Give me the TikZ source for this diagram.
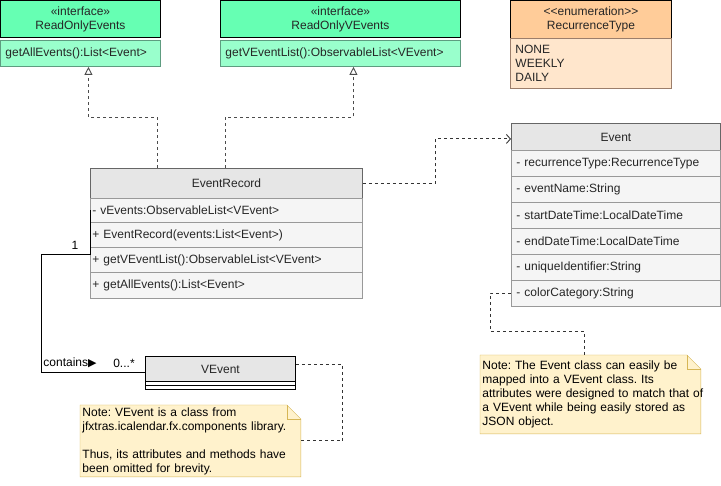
\documentclass[tikz,border=0pt]{standalone}
\usepackage{fontspec}
\setmainfont{Liberation Sans}
\newfontfamily\symfont{DejaVu Sans}
\usetikzlibrary{arrows.meta,calc,backgrounds}
\definecolor{ifchead}{HTML}{66FFB3}
\definecolor{ifcbody}{HTML}{99FFCC}
\definecolor{ifcline}{HTML}{5E9C80}
\definecolor{enumhead}{HTML}{FFCC99}
\definecolor{enumbody}{HTML}{FFE6CC}
\definecolor{enumline}{HTML}{9C7E6B}
\definecolor{clshead}{HTML}{E6E6E6}
\definecolor{clsbody}{HTML}{F5F5F5}
\definecolor{notefill}{HTML}{FFF2CC}
\definecolor{noteline}{HTML}{D6B656}
\tikzset{
  box/.style={draw, anchor=north west, inner xsep=5pt, inner ysep=0pt,
    font=\fontsize{12}{14}\selectfont, text=black!85},
  title/.style={box, align=center},
  member/.style={box, align=left},
  notetext/.style={anchor=north west, inner xsep=2pt, inner ysep=0pt, align=left,
    font=\fontsize{12}{14}\selectfont},
  lbl/.style={inner sep=0pt, font=\fontsize{12}{14}\selectfont},
  realize/.style={dash pattern=on 3pt off 3pt, black!70,
    -{Triangle[open, length=8pt, width=8pt]}},
  depend/.style={dash pattern=on 3pt off 3pt, black!80,
    -{Straight Barb[length=4pt, width=9pt]}},
  notelink/.style={dash pattern=on 3pt off 3pt, black!80},
}
% dog-eared note behind a text node
\newcommand{\drawnote}[1]{
  \begin{scope}[on background layer]
    \draw[noteline, fill=notefill] (#1.north west) -- ($(#1.north east)+(-14,0)$)
      -- ($(#1.north east)+(0,14)$) -- (#1.south east) -- (#1.south west) -- cycle;
    \draw[noteline] ($(#1.north east)+(-14,0)$) -- ($(#1.north east)+(-14,14)$)
      -- ($(#1.north east)+(0,14)$);
  \end{scope}
}

\begin{document}
\frenchspacing
\begin{tikzpicture}[x=1pt, y=-1pt, line width=0.9pt]
  \useasboundingbox (0,0) rectangle (721,486);

  % interfaces
  \node[title, fill=ifchead, text width=150, minimum height=37] (roeH) at (0,0)
    {«interface»\\ReadOnlyEvents};
  \node[member, fill=ifcbody, draw=ifcline, text width=150, minimum height=26] (roeB) at (0,40)
    {getAllEvents():List<Event>};
  \node[title, fill=ifchead, text width=230, minimum height=37] (rovH) at (220,0)
    {«interface»\\ReadOnlyVEvents};
  \node[member, fill=ifcbody, draw=ifcline, text width=230, minimum height=26] (rovB) at (220,40)
    {getVEventList():ObservableList<VEvent>};

  % enumeration
  \node[title, fill=enumhead, text width=151, minimum height=38] (rtH) at (510,0)
    {<\kern0pt<enumeration>\kern0pt>\\RecurrenceType};
  \node[member, fill=enumbody, draw=enumline, text width=151, minimum height=50] (rtB) at (510,38)
    {NONE\\WEEKLY\\DAILY};

  % EventRecord
  \node[title, fill=clshead, draw=black!60, text width=262, minimum height=30] (erH) at (90,168)
    {EventRecord};
  \node[member, fill=clsbody, draw=black!40, inner xsep=2pt, text width=268, minimum height=24] (er1) at (90,198)
    {- vEvents:ObservableList<VEvent>};
  \node[member, fill=clsbody, draw=black!40, inner xsep=2pt, text width=268, minimum height=25] (er2) at (90,222)
    {+ EventRecord(events:List<Event>)};
  \node[member, fill=clsbody, draw=black!40, inner xsep=2pt, text width=268, minimum height=25] (er3) at (90,247)
    {+ getVEventList():ObservableList<VEvent>};
  \node[member, fill=clsbody, draw=black!40, inner xsep=2pt, text width=268, minimum height=26] (er4) at (90,272)
    {+ getAllEvents():List<Event>};

  % Event
  \node[title, fill=clshead, draw=black!60, text width=199, minimum height=27] (evH) at (511,123)
    {Event};
  \node[member, fill=clsbody, draw=black!40, text width=199, minimum height=26] (ev1) at (511,150)
    {- recurrenceType:RecurrenceType};
  \node[member, fill=clsbody, draw=black!40, text width=199, minimum height=26] (ev2) at (511,176)
    {- eventName:String};
  \node[member, fill=clsbody, draw=black!40, text width=199, minimum height=26] (ev3) at (511,202)
    {- startDateTime:LocalDateTime};
  \node[member, fill=clsbody, draw=black!40, text width=199, minimum height=26] (ev4) at (511,228)
    {- endDateTime:LocalDateTime};
  \node[member, fill=clsbody, draw=black!40, text width=199, minimum height=26] (ev5) at (511,254)
    {- uniqueIdentifier:String};
  \node[member, fill=clsbody, draw=black!40, text width=199, minimum height=26] (ev6) at (511,280)
    {- colorCategory:String};

  % VEvent
  \node[title, fill=clshead, draw=black, text width=140, minimum height=25] (veH) at (145,356)
    {VEvent};
  \node[box, fill=white, draw=black, inner sep=0pt, minimum width=150, minimum height=4] (veA) at (145,381) {};
  \node[box, fill=white, draw=black, inner sep=0pt, minimum width=150, minimum height=4] (veM) at (145,385) {};

  % notes
  \node[notetext, text width=216, minimum height=71] (nt1) at (80,405)
    {Note: VEvent is a class from\\jfxtras.icalendar.fx.components library.\\[14pt]
     Thus, its attributes and methods have\\been omitted for brevity.};
  \drawnote{nt1}
  \node[notetext, text width=216, minimum height=78] (nt2) at (480,355)
    {Note: The Event class can easily be\\mapped into a VEvent class. Its\\
     \mbox{attributes were designed to match that of}\\a VEvent while being easily stored as\\
     JSON object.};
  \drawnote{nt2}

  % realizations
  \draw[realize] ($(erH.north west)+(67,0)$) -- ++(0,-51) -| ($(roeB.south)+(8,0)$);
  \draw[realize] ($(erH.north west)+(135,0)$) -- ++(0,-51) -| ($(rovB.south)+(13,0)$);

  % dependency
  \draw[depend] (erH.east) -- ++(73,0) |- ($(evH.west)+(0,2)$);

  % association
  \draw[black] (er1.west) -- ++(0,44) -- ++(-49,0) |- ($(veH.north west)!0.5!(veM.south west)$);
  \node[lbl] (mult1) at (75,245) {1};
  \node[lbl, anchor=west] (rel) at (43,363) {contains{\symfont\fontsize{11}{13}\selectfont ▶}};
  \node[lbl] (mult2) at (124,363) {0...*};

  % note links
  \draw[notelink] ($(veH.east)+(0,-4)$) -- ++(47,0) |- (nt1.east);
  \draw[notelink] (ev6.west) -- ++(-21,0) -- ++(0,38) -| ($(nt2.north)+(-6,0)$);
\end{tikzpicture}
\end{document}
